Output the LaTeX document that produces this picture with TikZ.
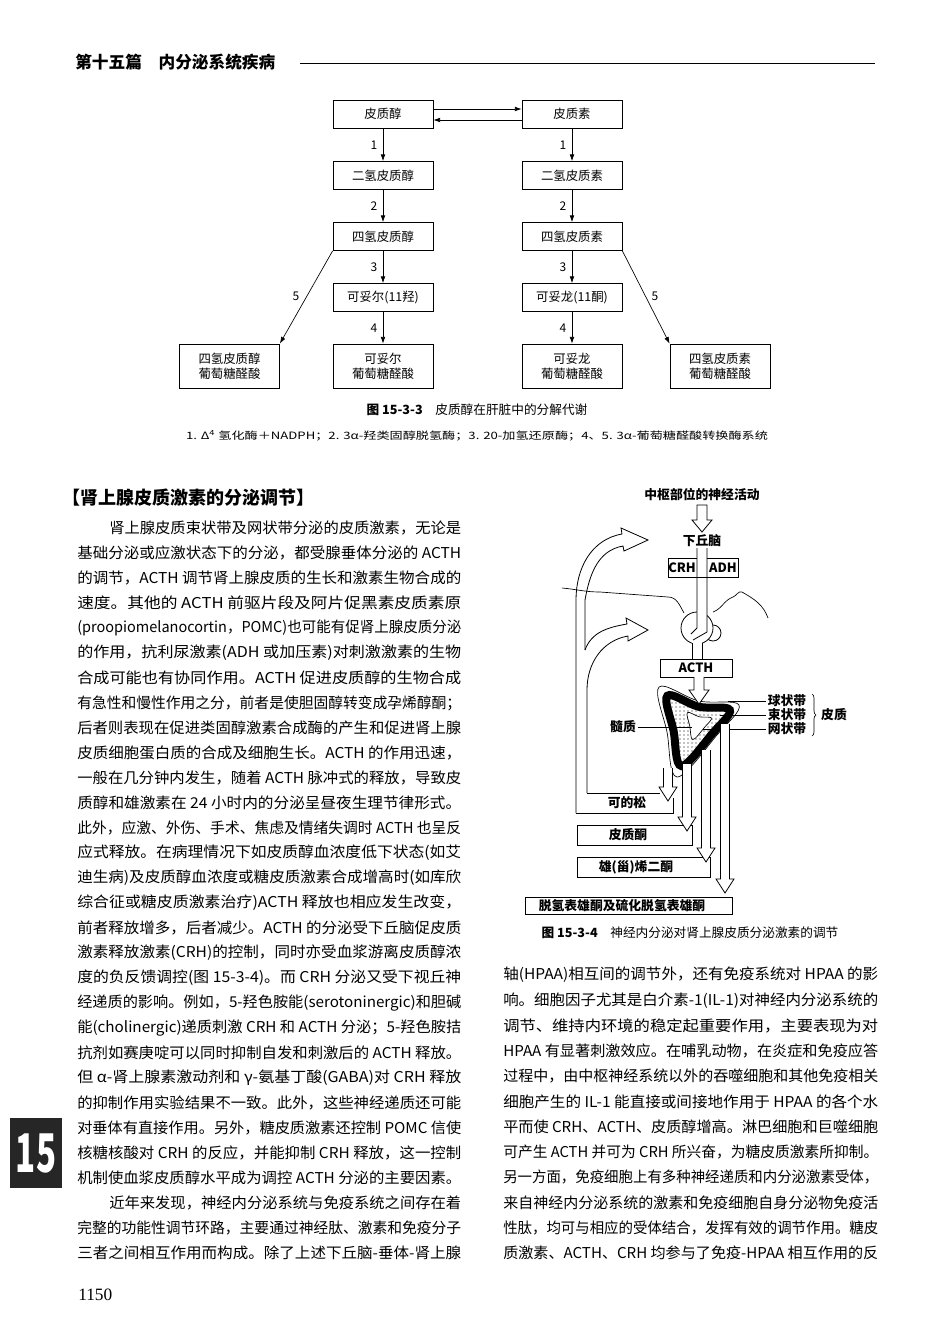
\documentclass[tikz,border=0pt]{standalone}
\usepackage{fontspec}
\setmainfont{Noto Sans CJK SC}
\newfontfamily\lserif{Liberation Serif}
\usetikzlibrary{arrows.meta,calc,patterns,decorations.pathreplacing}
\newlength\jw
\newcommand\jfit[2]{\settowidth\jw{#2}\pgfmathsetmacro\jr{#1*0.75/\jw}\scalebox{\jr}[1]{#2}}
\newcommand\bodyfont{\fontsize{11.2pt}{13pt}\selectfont}
\newcommand\Ll[2]{\pgfmathsetmacro\yy{528+(#1-1)*25}\node[txt] at (77,\yy) {\jfit{384}{#2}};}
\newcommand\Li[2]{\pgfmathsetmacro\yy{528+(#1-1)*25}\node[txt] at (109,\yy) {\jfit{352}{#2}};}
\newcommand\Rl[2]{\pgfmathsetmacro\yy{975+(#1-1)*25.3}\node[txt] at (503,\yy) {\jfit{375}{#2}};}
\newcommand\vba[5]{% xc ytop ytip halfshaft halfhead
 \fill[white] (#1-#4,#2)--(#1-#4,#3-14)--(#1-#5,#3-14)--(#1,#3)--(#1+#5,#3-14)--(#1+#4,#3-14)--(#1+#4,#2)--cycle;
 \draw (#1-#4,#2)--(#1-#4,#3-14)--(#1-#5,#3-14)--(#1,#3)--(#1+#5,#3-14)--(#1+#4,#3-14)--(#1+#4,#2);}
\begin{document}
\begin{tikzpicture}[x=0.75pt,y=-0.75pt,
 box/.style={draw,line width=0.6pt,minimum width=75pt,minimum height=21pt,inner sep=1pt,font=\fontsize{9.3pt}{11pt}\selectfont,align=center},
 tbox/.style={box,minimum height=33pt},
 arr/.style={-{Latex[length=5pt,width=3.5pt]},line width=0.5pt},
 lab/.style={font=\fontsize{9pt}{10pt}\selectfont,inner sep=1pt},
 txt/.style={anchor=west,inner sep=0pt,font=\bodyfont},
 fl/.style={font=\fontsize{9.6pt}{10pt}\selectfont\bfseries,inner sep=1pt}]
\useasboundingbox (0,0) rectangle (950,1339);
\fill[white] (0,0) rectangle (950,1339);
% header
\node[anchor=west,inner sep=0,font=\fontsize{12.5pt}{14pt}\selectfont\bfseries] (hd) at (75,62) {第十五篇\quad 内分泌系统疾病};
\draw[line width=0.5pt] (300,63) -- (875,63);
% ---------- figure 15-3-3 ----------
\node[box] (a1) at (383,114) {皮质醇};
\node[box] (b1) at (572,114) {皮质素};
\node[box] (a2) at (383,175.5) {二氢皮质醇};
\node[box] (b2) at (572,175.5) {二氢皮质素};
\node[box] (a3) at (383,236.5) {四氢皮质醇};
\node[box] (b3) at (572,236.5) {四氢皮质素};
\node[box] (a4) at (383,297.5) {可妥尔(11羟)};
\node[box] (b4) at (572,297.5) {可妥龙(11酮)};
\node[tbox] (a5) at (383,366) {可妥尔\\葡萄糖醛酸};
\node[tbox] (b5) at (572,366) {可妥龙\\葡萄糖醛酸};
\node[tbox] (c5) at (229.5,366) {四氢皮质醇\\葡萄糖醛酸};
\node[tbox] (d5) at (720,366) {四氢皮质素\\葡萄糖醛酸};
\draw[arr] ($(a1.east)+(0,-5)$) -- ($(b1.west)+(0,-5)$);
\draw[arr] ($(b1.west)+(0,6)$) -- ($(a1.east)+(0,6)$);
\foreach \p/\q/\n in {a1/a2/1,a2/a3/2,a3/a4/3,a4/a5/4,b1/b2/1,b2/b3/2,b3/b4/3,b4/b5/4}
 \draw[arr] (\p) -- node[lab,left=3pt]{\n} (\q);
\draw[arr] (a3.south west) -- (c5.north east);
\draw[arr] (b3.south east) -- (d5.north west);
\node[lab] (l5a) at (296,296) {5};
\node[lab] (l5b) at (655,296) {5};
\node[inner sep=0,font=\fontsize{9.5pt}{11pt}\selectfont] (cap1) at (477,410) {\textbf{图 15-3-3}\quad 皮质醇在肝脏中的分解代谢};
\node[inner sep=0,font=\fontsize{7.6pt}{9pt}\selectfont] (fn1) at (477,436) {\jfit{582}{1. Δ\textsuperscript{4} 氢化酶＋NADPH；2. 3α-羟类固醇脱氢酶；3. 20-加氢还原酶；4、5. 3α-葡萄糖醛酸转换酶系统}};
% ---------- figure 15-3-4 ----------
\begin{scope}[line width=0.6pt]
\node[fl] (zs) at (702,495) {中枢部位的神经活动};
\fill[white] (697,505)--(697,520)--(692,520)--(702,532)--(712,520)--(707,520)--(707,505)--cycle;
\draw (697,505)--(697,520)--(692,520)--(702,532)--(712,520)--(707,520)--(707,505)--cycle;
\node[fl] (xqn) at (702,541) {下丘脑};
% wave
\draw[line width=0.5pt] (562,588) to[out=-5,in=180] (600,592) -- (668,597) to[out=0,in=120] (684,613);
\draw[line width=0.5pt] (713,612) to[out=20,in=200] (733,597) to[out=20,in=160] (742,592) to[out=-30,in=110] (768,618);
% pituitary
\draw[fill=white] (713,633) circle (8);
\draw[fill=white] (697,628) circle (16);
\fill[white] (697,548) rectangle (707,630);
\draw[fill=white] (668,558) rectangle (738,577);
\node[fl] (crh) at (682,567.5) {CRH};
\node[fl] (adh) at (723,567.5) {ADH};
\fill[white] (697,548) rectangle (707,577);
\draw (697,548) -- (697,628) -- (691,634);
\draw (707,548) -- (707,632) -- (693,640);
\fill[white] (692,642) rectangle (702,660);
\draw (692,643) -- (692,659); \draw (702,643) -- (702,659);
\draw[fill=white] (660,659) rectangle (732,677);
\node[fl] (acth) at (696,668) {ACTH};
% adrenal
\begin{scope}[shift={(697,727)}]
\def\adr{plot[smooth cycle,tension=0.6] coordinates {(-38,-40) (2,-26) (42,-22) (20,8) (-20,50) (-30,5)}}
\draw[fill=white,line width=0.5pt] \adr;
\draw[line width=6pt,fill=white,scale=0.78] \adr;
\fill[pattern=dots,scale=0.66] \adr;
\draw[fill=white,line width=0.5pt,scale=0.3,shift={(6,-8)}] \adr;
\end{scope}
\vba{699}{677}{704}{5}{10}
\node[fl] (qzd) at (787,701) {球状带};
\node[fl] (szd) at (787,715) {束状带};
\node[fl] (wzd) at (787,729) {网状带};
\node[fl] (sz) at (623,727) {髓质};
\node[fl] (pz) at (834,715) {皮质};
\draw[line width=0.4pt] (728,701) -- (qzd.west);
\draw[line width=0.4pt] (720,715) -- (szd.west);
\draw[line width=0.4pt] (703,729) -- (wzd.west);
\draw[line width=0.4pt] (sz.east) -- (692,727);
\draw[decorate,decoration={brace,amplitude=3pt},line width=0.5pt] (812,694) -- (812,736);
% output boxes
\draw (577,825) rectangle (692,845);
\node[fl] (pzt) at (628,835) {皮质酮};
\draw (577,857) rectangle (710,877);
\node[fl] (xxe) at (636,867) {雄(甾)烯二酮};
\draw (525,897) rectangle (732,914);
\node[fl] (tq) at (622,905.5) {脱氢表雄酮及硫化脱氢表雄酮};
% output arrows
\vba{668}{768}{801}{4.5}{9}
\vba{687}{764}{831}{4.5}{9}
\vba{706}{750}{862}{4.5}{9}
\vba{725}{724}{893}{4.5}{9}
% cortisol loop
\node[fl] (kds) at (627,803) {可的松};
\draw (587,793) -- (660,793);
\draw (673,798) -- (673,813) -- (576,813);
\draw (576,813) -- (576,600) to[out=90,in=190] (622,534) -- (621,528) -- (648,540) -- (624,551) -- (623,546) to[out=190,in=80] (585,600) -- (585,650);
\draw (585,650) to[out=70,in=190] (627,624) -- (626,618) -- (648,630) -- (628,641) -- (628,636) to[out=190,in=90] (587,690) -- (587,793);
\end{scope}
\node[inner sep=0,font=\fontsize{9.5pt}{11pt}\selectfont] (cap2) at (690,933) {\textbf{图 15-3-4}\quad 神经内分泌对肾上腺皮质分泌激素的调节};
% ---------- text ----------
\node[anchor=west,inner sep=0,font=\fontsize{13.5pt}{15pt}\selectfont\bfseries] (h2) at (62,498) {【肾上腺皮质激素的分泌调节】};
\Li{1}{肾上腺皮质束状带及网状带分泌的皮质激素，无论是}
\Ll{2}{基础分泌或应激状态下的分泌，都受腺垂体分泌的 ACTH}
\Ll{3}{的调节，ACTH 调节肾上腺皮质的生长和激素生物合成的}
\Ll{4}{速度。其他的 ACTH 前驱片段及阿片促黑素皮质素原}
\Ll{5}{(proopiomelanocortin，POMC)也可能有促肾上腺皮质分泌}
\Ll{6}{的作用，抗利尿激素(ADH 或加压素)对刺激激素的生物}
\Ll{7}{合成可能也有协同作用。ACTH 促进皮质醇的生物合成}
\Ll{8}{有急性和慢性作用之分，前者是使胆固醇转变成孕烯醇酮；}
\Ll{9}{后者则表现在促进类固醇激素合成酶的产生和促进肾上腺}
\Ll{10}{皮质细胞蛋白质的合成及细胞生长。ACTH 的作用迅速，}
\Ll{11}{一般在几分钟内发生，随着 ACTH 脉冲式的释放，导致皮}
\Ll{12}{质醇和雄激素在 24 小时内的分泌呈昼夜生理节律形式。}
\Ll{13}{此外，应激、外伤、手术、焦虑及情绪失调时 ACTH 也呈反}
\Ll{14}{应式释放。在病理情况下如皮质醇血浓度低下状态(如艾}
\Ll{15}{迪生病)及皮质醇血浓度或糖皮质激素合成增高时(如库欣}
\Ll{16}{综合征或糖皮质激素治疗)ACTH 释放也相应发生改变，}
\Ll{17}{前者释放增多，后者减少。ACTH 的分泌受下丘脑促皮质}
\Ll{18}{激素释放激素(CRH)的控制，同时亦受血浆游离皮质醇浓}
\Ll{19}{度的负反馈调控(图 15-3-4)。而 CRH 分泌又受下视丘神}
\Ll{20}{经递质的影响。例如，5-羟色胺能(serotoninergic)和胆碱}
\Ll{21}{能(cholinergic)递质刺激 CRH 和 ACTH 分泌；5-羟色胺拮}
\Ll{22}{抗剂如赛庚啶可以同时抑制自发和刺激后的 ACTH 释放。}
\Ll{23}{但 α-肾上腺素激动剂和 γ-氨基丁酸(GABA)对 CRH 释放}
\Ll{24}{的抑制作用实验结果不一致。此外，这些神经递质还可能}
\Ll{25}{对垂体有直接作用。另外，糖皮质激素还控制 POMC 信使}
\Ll{26}{核糖核酸对 CRH 的反应，并能抑制 CRH 释放，这一控制}
\Ll{27}{机制使血浆皮质醇水平成为调控 ACTH 分泌的主要因素。}
\Li{28}{近年来发现，神经内分泌系统与免疫系统之间存在着}
\Ll{29}{完整的功能性调节环路，主要通过神经肽、激素和免疫分子}
\Ll{30}{三者之间相互作用而构成。除了上述下丘脑-垂体-肾上腺}
\Rl{1}{轴(HPAA)相互间的调节外，还有免疫系统对 HPAA 的影}
\Rl{2}{响。细胞因子尤其是白介素-1(IL-1)对神经内分泌系统的}
\Rl{3}{调节、维持内环境的稳定起重要作用，主要表现为对}
\Rl{4}{HPAA 有显著刺激效应。在哺乳动物，在炎症和免疫应答}
\Rl{5}{过程中，由中枢神经系统以外的吞噬细胞和其他免疫相关}
\Rl{6}{细胞产生的 IL-1 能直接或间接地作用于 HPAA 的各个水}
\Rl{7}{平而使 CRH、ACTH、皮质醇增高。淋巴细胞和巨噬细胞}
\Rl{8}{可产生 ACTH 并可为 CRH 所兴奋，为糖皮质激素所抑制。}
\Rl{9}{另一方面，免疫细胞上有多种神经递质和内分泌激素受体，}
\Rl{10}{来自神经内分泌系统的激素和免疫细胞自身分泌物免疫活}
\Rl{11}{性肽，均可与相应的受体结合，发挥有效的调节作用。糖皮}
\Rl{12}{质激素、ACTH、CRH 均参与了免疫-HPAA 相互作用的反}
% chapter tab and page number
\fill[black!85] (10,1118) rectangle (62,1188);
\node[white,inner sep=0,font=\fontsize{40pt}{40pt}\selectfont\bfseries] (tab) at (36,1153) {\scalebox{0.62}[1]{15}};
\node[anchor=west,inner sep=0,font=\lserif\fontsize{13pt}{14pt}\selectfont] (pg) at (78,1295) {1150};
\end{tikzpicture}
\end{document}
